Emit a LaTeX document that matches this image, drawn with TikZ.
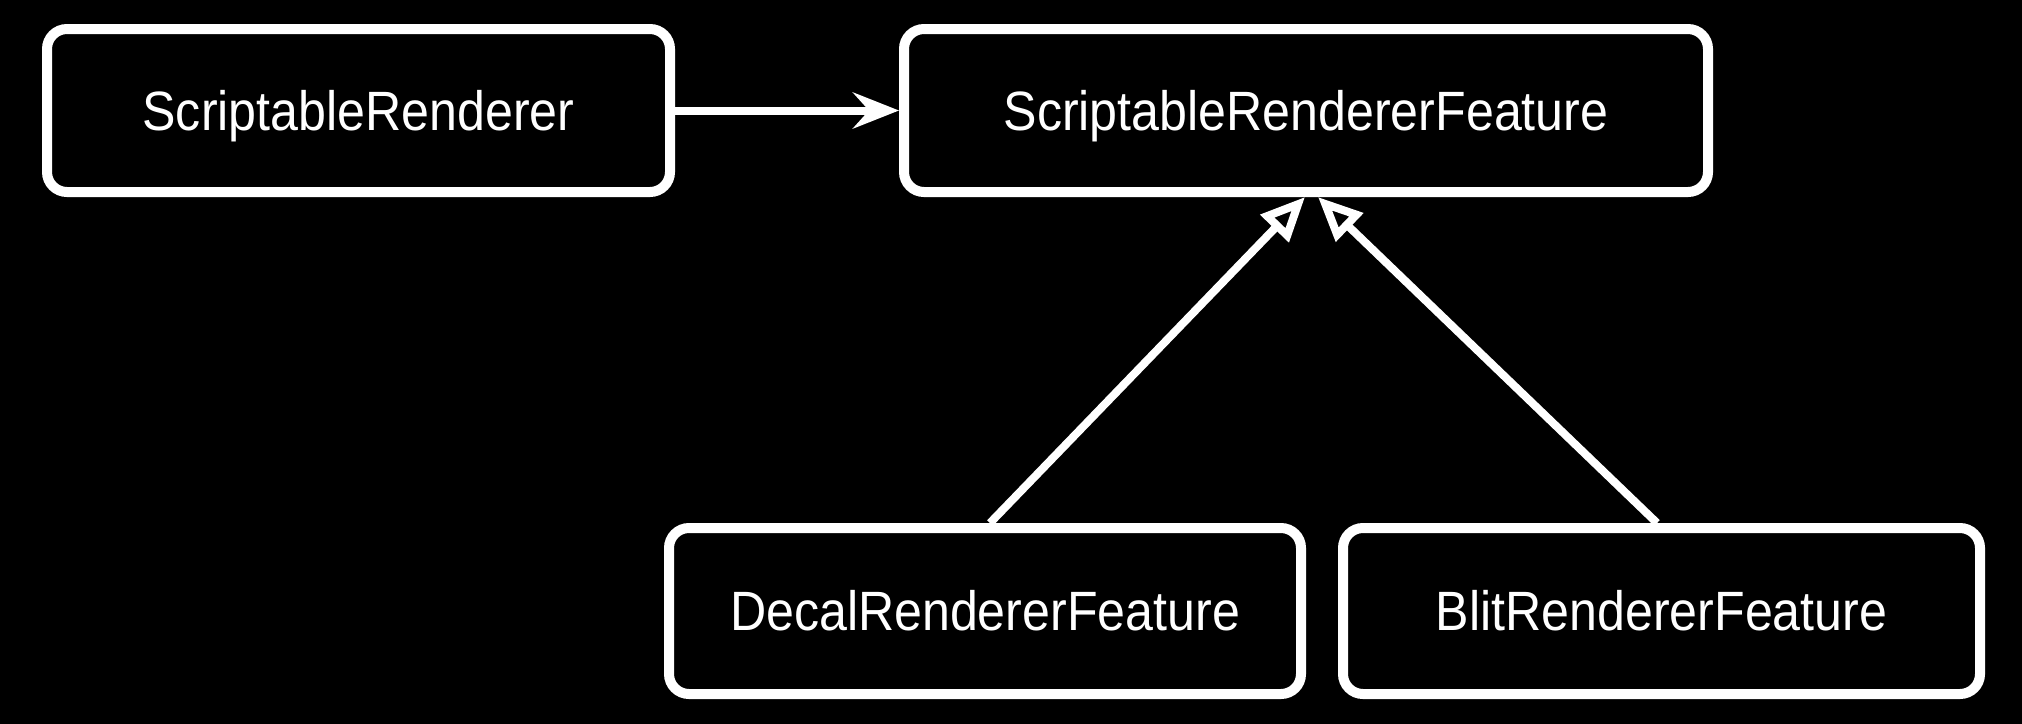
\documentclass[tikz,border=0pt]{standalone}
\usepackage{fontspec}
\setmainfont{Liberation Sans}[FakeStretch=0.905]
\usetikzlibrary{arrows.meta}
\tikzset{
  box/.style={draw=white, line width=5pt, rounded corners=10pt, fill=black,
    text=white, font=\fontsize{27.7}{32}\selectfont, inner sep=0pt,
    text height=19.8pt, text depth=0pt},
  assoc/.style={draw=white, line width=4pt, -{Stealth[length=23pt, width=18pt, inset=8pt]}},
  inherit/.style={draw=white, line width=4pt, -{Triangle[open, length=22pt, width=19pt, line width=4pt]}}
}
\begin{document}
\begin{tikzpicture}[x=0.5pt, y=-0.5pt]
  \useasboundingbox (0,0) rectangle (2022,723);
  \fill[black] (-10,-10) rectangle (2032,733);
  \node[box, minimum width=311.5pt, minimum height=81.5pt] (sr) at (358.5,110.5) {ScriptableRenderer};
  \node[box, minimum width=402pt, minimum height=81.5pt] (srf) at (1306,110.5) {ScriptableRendererFeature};
  \node[box, minimum width=316pt, minimum height=83pt] (dec) at (985,611) {DecalRendererFeature};
  \node[box, minimum width=318.5pt, minimum height=83pt] (blit) at (1661.5,611) {BlitRendererFeature};
  \draw[assoc] (sr.east) -- (srf.west);
  \draw[inherit] ([xshift=2.5pt]dec.north) -- ([xshift=-0.5pt]srf.south);
  \draw[inherit] ([xshift=-2.25pt]blit.north) -- ([xshift=6pt]srf.south);
\end{tikzpicture}
\end{document}
